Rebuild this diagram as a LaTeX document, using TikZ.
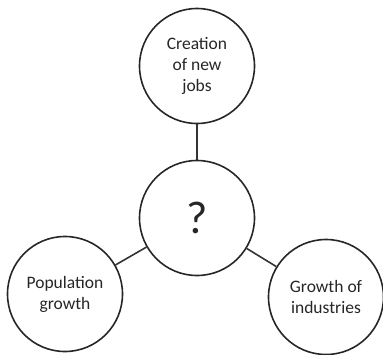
\documentclass[tikz,border=0pt]{standalone}
\usepackage{fontspec}
\setmainfont{Carlito}
\begin{document}
\begin{tikzpicture}[x=1pt,y=-1pt,
  bubble/.style={circle,draw=black!85,line width=1.6pt,minimum size=115pt,inner sep=0pt,align=center,font=\fontsize{17.5}{21}\selectfont,text=black!85},
  link/.style={draw=black!80,line width=1.6pt}]
\useasboundingbox (0,0) rectangle (383,354);
\node[bubble] (top) at (197,66) {Creation\\of new\\jobs};
\node[bubble,font=\fontsize{46}{52}\selectfont] (mid) at (197,218) {?};
\node[bubble] (left) at (65,294) {Population\\growth};
\node[bubble] (right) at (326,297) {Growth of\\industries};
\draw[link] (top) -- (mid);
\draw[link] (mid) -- (left);
\draw[link] (mid) -- (right);
\end{tikzpicture}
\end{document}
